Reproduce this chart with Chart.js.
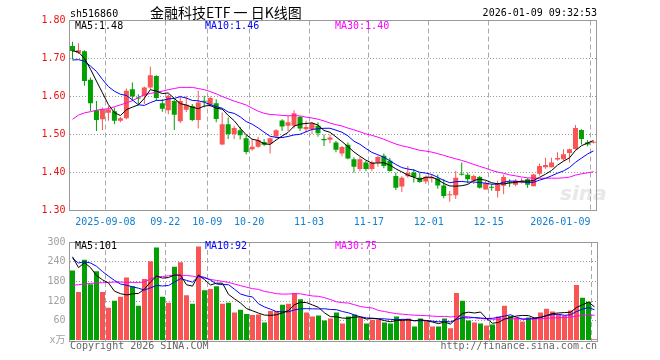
<!DOCTYPE html>
<html>
<head>
<meta charset="utf-8">
<script src="https://cdn.jsdelivr.net/npm/chart.js@4/dist/chart.umd.min.js"></script>
<style>
body{margin:0;background:#fff;width:660px;height:360px;position:relative;overflow:hidden;
  font-family:"DejaVu Sans Mono","Noto Sans CJK SC",monospace;font-size:10px}
.t{position:absolute;white-space:nowrap;line-height:12px}
canvas{position:absolute;left:0}
#pc{top:0}
#vc{top:232px}
</style>
</head>
<body>
<div class="t" style="left:560px;top:181px;font:italic bold 20px 'DejaVu Sans';color:#e8e8e8">sina</div>
<canvas id="pc" width="660" height="232"></canvas>
<canvas id="vc" width="660" height="128"></canvas>
<div class="t" style="left:70px;top:8px;color:#000">sh516860</div>
<div class="t" style="left:150px;top:3px;font:14px/18px 'Noto Sans CJK SC';color:#000">金融科技ETF 一 日K线图</div>
<div class="t" style="right:63px;top:7px;color:#000">2026-01-09 09:32:53</div>
<div class="t" style="left:75px;top:20px;color:#000">MA5:1.48</div>
<div class="t" style="left:205px;top:20px;color:#0000ff">MA10:1.46</div>
<div class="t" style="left:335px;top:20px;color:#ff00ff">MA30:1.40</div>
<div class="t" style="left:75px;top:240px;color:#000">MA5:101</div>
<div class="t" style="left:205px;top:240px;color:#0000ff">MA10:92</div>
<div class="t" style="left:335px;top:240px;color:#ff00ff">MA30:75</div>
<div class="t" style="left:70px;top:340px;color:#666">Copyright 2026 SINA.COM</div>
<div class="t" style="right:63px;top:340px;color:#666">http://finance.sina.com.cn</div>
<script>
// trading days shown on the chart
var dates = [
  '2025-08-29','2025-09-01','2025-09-02','2025-09-03','2025-09-04','2025-09-05',
  '2025-09-08','2025-09-09','2025-09-10','2025-09-11','2025-09-12',
  '2025-09-15','2025-09-16','2025-09-17','2025-09-18','2025-09-19',
  '2025-09-22','2025-09-23','2025-09-24','2025-09-25','2025-09-26',
  '2025-09-29','2025-09-30','2025-10-09','2025-10-10',
  '2025-10-13','2025-10-14','2025-10-15','2025-10-16','2025-10-17',
  '2025-10-20','2025-10-21','2025-10-22','2025-10-23','2025-10-24',
  '2025-10-27','2025-10-28','2025-10-29','2025-10-30','2025-10-31',
  '2025-11-03','2025-11-04','2025-11-05','2025-11-06','2025-11-07',
  '2025-11-10','2025-11-11','2025-11-12','2025-11-13','2025-11-14',
  '2025-11-17','2025-11-18','2025-11-19','2025-11-20','2025-11-21',
  '2025-11-24','2025-11-25','2025-11-26','2025-11-27','2025-11-28',
  '2025-12-01','2025-12-02','2025-12-03','2025-12-04','2025-12-05',
  '2025-12-08','2025-12-09','2025-12-10','2025-12-11','2025-12-12',
  '2025-12-15','2025-12-16','2025-12-17','2025-12-18','2025-12-19',
  '2025-12-22','2025-12-23','2025-12-24','2025-12-25','2025-12-26',
  '2025-12-29','2025-12-30','2025-12-31',
  '2026-01-05','2026-01-06','2026-01-07','2026-01-08','2026-01-09'
];

var tickDates = ['2025-09-08','2025-09-22','2025-10-09','2025-10-20','2025-11-03',
  '2025-11-17','2025-12-01','2025-12-15','2026-01-09'];
var tickText = ['2025-09-08','09-22','10-09','10-20','11-03','11-17','12-01','12-15','2026-01-09'];

var opens = [
  1.733,1.715,1.719,1.644,1.564,1.540,1.557,1.561,1.536,1.543,
  1.619,1.596,1.602,1.624,1.654,1.582,1.564,1.588,1.535,1.565,
  1.575,1.538,1.588,1.578,1.582,1.474,1.527,1.501,1.511,1.490,
  1.461,1.468,1.480,1.476,1.495,1.537,1.523,1.523,1.546,1.514,
  1.514,1.523,1.488,1.486,1.479,1.450,1.473,1.435,1.409,1.426,
  1.409,1.426,1.444,1.431,1.391,1.363,1.390,1.400,1.386,1.376,
  1.384,1.384,1.366,1.340,1.340,1.396,1.394,1.379,1.388,1.355,
  1.361,1.351,1.365,1.374,1.368,1.373,1.382,1.364,1.397,1.414,
  1.414,1.434,1.435,1.451,1.462,1.512,1.479,1.478];
var highs = [
  1.744,1.740,1.722,1.650,1.588,1.571,1.575,1.571,1.546,1.621,
  1.637,1.606,1.626,1.678,1.656,1.593,1.606,1.593,1.602,1.602,
  1.580,1.615,1.602,1.600,1.593,1.558,1.545,1.523,1.520,1.498,
  1.488,1.494,1.488,1.492,1.514,1.540,1.549,1.564,1.549,1.536,
  1.532,1.532,1.500,1.500,1.483,1.470,1.479,1.440,1.440,1.431,
  1.431,1.444,1.450,1.439,1.400,1.390,1.417,1.409,1.399,1.392,
  1.395,1.395,1.383,1.351,1.404,1.426,1.400,1.394,1.391,1.378,
  1.369,1.378,1.395,1.382,1.383,1.385,1.385,1.397,1.424,1.439,
  1.439,1.453,1.461,1.463,1.525,1.514,1.485,1.483];
var lows = [
  1.698,1.712,1.628,1.562,1.509,1.512,1.536,1.527,1.532,1.540,
  1.588,1.579,1.580,1.620,1.590,1.560,1.553,1.512,1.530,1.559,
  1.535,1.516,1.571,1.573,1.532,1.472,1.488,1.488,1.487,1.448,
  1.457,1.465,1.470,1.450,1.490,1.509,1.509,1.516,1.509,1.505,
  1.501,1.494,1.470,1.477,1.453,1.443,1.435,1.400,1.403,1.403,
  1.403,1.415,1.411,1.402,1.354,1.349,1.386,1.374,1.373,1.370,
  1.374,1.357,1.332,1.323,1.330,1.392,1.371,1.370,1.358,1.355,
  1.352,1.334,1.343,1.362,1.364,1.371,1.360,1.364,1.392,1.410,
  1.413,1.431,1.431,1.426,1.460,1.474,1.469,1.476];
var closes = [
  1.720,1.722,1.641,1.582,1.538,1.566,1.566,1.536,1.543,1.615,
  1.600,1.595,1.624,1.656,1.596,1.568,1.602,1.552,1.588,1.578,
  1.538,1.584,1.586,1.596,1.541,1.527,1.501,1.517,1.498,1.454,
  1.468,1.485,1.473,1.490,1.511,1.521,1.532,1.556,1.516,1.520,
  1.529,1.503,1.485,1.492,1.460,1.467,1.437,1.415,1.435,1.409,
  1.426,1.441,1.417,1.404,1.360,1.386,1.399,1.388,1.375,1.389,
  1.388,1.366,1.338,1.342,1.386,1.394,1.382,1.391,1.360,1.372,
  1.360,1.369,1.388,1.373,1.379,1.378,1.368,1.395,1.417,1.420,
  1.426,1.438,1.448,1.461,1.517,1.488,1.474,1.480];

// volume, unit 万
var volumes = [
  213,148,246,171,211,148,100,121,133,192,
  165,106,187,241,283,133,115,225,238,138,
  112,286,153,157,165,112,115,85,94,81,
  78,79,55,90,90,109,112,145,126,85,
  73,76,61,67,85,52,73,79,70,52,
  63,63,55,52,73,65,67,43,67,61,
  43,43,67,37,145,121,61,55,52,46,
  49,73,106,75,70,58,70,70,85,97,
  88,79,76,91,169,130,118,4];

// MA values before a full window exists (they use days left of the chart)
var ma5Head = [1.720,1.717,1.700,1.672];
var ma10Head = [1.696,1.697,1.693,1.680,1.666,1.645,1.626,1.614,1.606];
var ma30Head = [1.540,1.551,1.557,1.560,1.564,1.566,1.568,1.573,1.578,1.583,
  1.589,1.597,1.605,1.608,1.611,1.614,1.618,1.621,1.624,1.624,
  1.624,1.621,1.618,1.613,1.607,1.600,1.594,1.588,1.583];
var volMa5Head = [255,222,237,222];
var volMa10Head = [250,236,240,236,226,210,196,183,172];
var volMa30Head = [168,170,172,174,175,176,177,178,178,177,
  177,177,178,188,193,195,197,200,199,198,
  196,192,190,186,183,180,177,172,167];

var upColor = '#fa5555';
var downColor = '#03a003';

function movingAvg(vals, n, head) {
  return vals.map(function (v, i) {
    if (i < n - 1) return head[i];
    var s = 0;
    for (var k = i - n + 1; k <= i; k++) s += vals[k];
    return s / n;
  });
}

var colors = closes.map(function (c, i) { return c >= opens[i] ? upColor : downColor; });
var tickIdx = tickDates.map(function (d) { return dates.indexOf(d); });
var monoFont = {family: "'DejaVu Sans Mono','Noto Sans CJK SC',monospace", size: 10};

function gridColor(ctx) {
  return tickIdx.indexOf(ctx.index) >= 0 ? '#aaaaaa' : 'rgba(0,0,0,0)';
}

var frame = {
  id: 'frame',
  afterDraw: function (chart) {
    var a = chart.chartArea, ctx = chart.ctx;
    ctx.save();
    ctx.strokeStyle = '#999999';
    ctx.lineWidth = 1;
    ctx.strokeRect(Math.floor(a.left) + 0.5, Math.floor(a.top) + 0.5,
      Math.round(a.right - a.left), Math.round(a.bottom - a.top));
    ctx.restore();
  }
};

function maLine(label, data, color) {
  return {type: 'line', label: label, data: data, borderColor: color, borderWidth: 1,
    pointRadius: 0, fill: false, order: 0};
}

function xScale(showTicks) {
  return {
    offset: true,
    grid: {offset: true, color: gridColor, lineWidth: 1, drawTicks: false},
    border: {display: false, dash: [5, 3]},
    ticks: {
      display: showTicks, autoSkip: false, maxRotation: 0, minRotation: 0,
      padding: 6, labelOffset: -3, color: '#1380d0', font: monoFont,
      callback: function (v, i) {
        var k = tickIdx.indexOf(i);
        if (k < 0) return '';
        return k === tickIdx.length - 1 ? tickText[k] + '          ' : tickText[k];
      }
    },
    afterFit: function (s) { s.height = showTicks ? 21.5 : 0; }
  };
}

new Chart(document.getElementById('pc'), {
  type: 'bar',
  data: {
    labels: dates,
    datasets: [
      maLine('MA5', movingAvg(closes, 5, ma5Head), '#000000'),
      maLine('MA10', movingAvg(closes, 10, ma10Head), '#0000ff'),
      maLine('MA30', movingAvg(closes, 30, ma30Head), '#ff00ff'),
      {label: 'body', data: opens.map(function (o, i) { return [o, closes[i]]; }),
        backgroundColor: colors, barThickness: 5, grouped: false, minBarLength: 1,
        inflateAmount: 0, order: 1},
      {label: 'wick', data: lows.map(function (l, i) { return [l, highs[i]]; }),
        backgroundColor: colors, barThickness: 1, grouped: false,
        inflateAmount: 0, order: 2}
    ]
  },
  options: {
    responsive: false,
    animation: false,
    layout: {padding: {left: 0, right: 62.5, top: 20.5, bottom: 0}},
    plugins: {legend: {display: false}, tooltip: {enabled: false}},
    scales: {
      x: xScale(true),
      y: {
        min: 1.3, max: 1.8,
        ticks: {stepSize: 0.1, color: '#ee1111', padding: 4, font: monoFont,
          callback: function (v) { return Number(v).toFixed(2); }},
        grid: {drawTicks: false,
          color: function (ctx) { var v = ctx.tick && ctx.tick.value;
            return (v > 1.31 && v < 1.79) ? '#999999' : 'rgba(0,0,0,0)'; }},
        border: {display: false, dash: [1, 2]},
        afterFit: function (s) { s.width = 69.5; }
      }
    }
  },
  plugins: [frame]
});

new Chart(document.getElementById('vc'), {
  type: 'bar',
  data: {
    labels: dates,
    datasets: [
      maLine('MA5', movingAvg(volumes, 5, volMa5Head), '#000000'),
      maLine('MA10', movingAvg(volumes, 10, volMa10Head), '#0000ff'),
      maLine('MA30', movingAvg(volumes, 30, volMa30Head), '#ff00ff'),
      {label: 'volume', data: volumes, backgroundColor: colors, barThickness: 5,
        grouped: false, inflateAmount: 0, order: 1}
    ]
  },
  options: {
    responsive: false,
    animation: false,
    layout: {padding: {left: 0, right: 62.5, top: 8.5, bottom: 19.5}},
    plugins: {legend: {display: false}, tooltip: {enabled: false}},
    scales: {
      x: xScale(false),
      y: {
        min: 0, max: 300,
        ticks: {stepSize: 60, color: '#a0a0a0', padding: 4, font: monoFont,
          callback: function (v) { return v === 0 ? 'x万' : String(v); }},
        grid: {drawTicks: false,
          color: function (ctx) { var v = ctx.tick && ctx.tick.value;
            return (v > 0 && v < 300) ? '#999999' : 'rgba(0,0,0,0)'; }},
        border: {display: false, dash: [1, 2]},
        afterFit: function (s) { s.width = 69.5; }
      }
    }
  },
  plugins: [frame]
});
</script>
</body>
</html>
